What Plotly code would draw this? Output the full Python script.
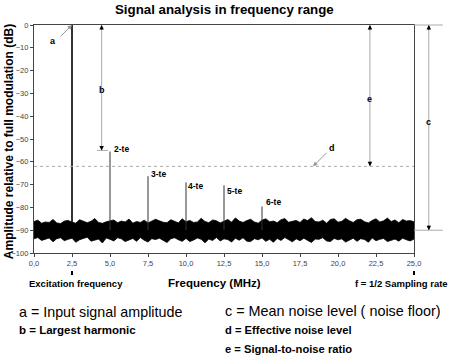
import plotly.graph_objects as go

# ---------------- data ----------------
freq_ticks = [0, 2.5, 5, 7.5, 10, 12.5, 15, 17.5, 20, 22.5, 25]
freq_tick_labels = ["0,0", "2,5", "5,0", "7,5", "10,0", "12,5", "15,0", "17,5", "20,0", "22,5", "25,0"]
db_ticks = [0, -10, -20, -30, -40, -50, -60, -70, -80, -90, -100]

peak_freqs = [2.5, 5.0, 7.5, 10.0, 12.5, 15.0]
peak_db = [0, -55.5, -66.3, -69.0, -70.3, -79.6]
peak_labels = ["", "2-te", "3-te", "4-te", "5-te", "6-te"]
peak_label_x = [0, 5.13, 7.57, 10.0, 12.57, 15.13]
peak_label_y = [0, -54.2, -65.5, -70.5, -72.9, -77.7]

noise_freq = [i * 0.25 for i in range(101)]
noise_upper = [
    -86.2, -85.6, -86.9, -86.4, -86.6, -85.3, -86.8, -87.1, -86.0, -85.7,
    -86.5, -86.9, -85.4, -86.2, -86.7, -86.1, -84.9, -86.6, -87.0, -86.3,
    -85.8, -85.5, -86.7, -86.0, -86.4, -85.1, -86.9, -86.2, -86.6, -85.6,
    -86.8, -86.0, -85.2, -85.9, -86.5, -86.7, -85.4, -86.1, -86.8, -85.0,
    -86.3, -85.7, -86.6, -86.4, -84.8, -86.2, -86.7, -85.5, -85.9, -86.8,
    -86.1, -85.3, -86.5, -84.6, -86.0, -86.6, -85.8, -85.2, -86.4, -86.9,
    -85.6, -85.0, -86.3, -86.0, -86.7, -85.4, -84.9, -86.5, -86.1, -85.7,
    -86.6, -85.1, -85.8, -84.5, -86.2, -86.4, -85.6, -86.9, -85.3, -85.0,
    -86.5, -86.1, -84.8, -85.9, -86.6, -85.4, -85.2, -86.3, -86.8, -85.7,
    -85.0, -86.4, -85.9, -84.7, -86.2, -85.5, -86.7, -85.3, -86.0, -85.8,
    -86.3,
]
noise_lower = [
    -93.8, -93.2, -94.5, -94.1, -93.4, -95.1, -93.7, -93.3, -94.6, -94.0,
    -93.5, -95.3, -94.2, -93.6, -93.1, -94.8, -94.4, -93.9, -95.6, -93.4,
    -94.0, -94.7, -93.3, -93.8, -95.0, -94.3, -93.6, -94.9, -93.2, -94.4,
    -95.2, -93.7, -94.1, -93.5, -94.6, -95.4, -93.8, -93.3, -94.2, -94.9,
    -93.6, -95.0, -94.3, -93.4, -94.0, -95.5, -93.9, -94.5, -93.2, -94.7,
    -93.8, -94.1, -95.2, -93.5, -94.4, -93.3, -94.8, -95.0, -93.7, -94.2,
    -93.4, -94.9, -94.0, -95.3, -93.6, -94.5, -93.2, -94.1, -95.1, -93.8,
    -94.6, -93.5, -94.3, -95.4, -93.9, -94.0, -93.3, -94.7, -95.0, -93.6,
    -94.2, -93.8, -95.2, -94.4, -93.5, -94.9, -93.7, -94.1, -95.3, -93.4,
    -94.6, -94.0, -93.6, -95.0, -94.3, -93.9, -94.8, -93.5, -94.2, -94.7,
    -93.9,
]
noise_floor_db = -90
effective_noise_db = -62

FONT = "Liberation Sans, Arial, Helvetica, sans-serif"

fig = go.Figure()

# noise band
fig.add_trace(go.Scatter(x=noise_freq, y=noise_upper, mode="lines",
                         line=dict(color="black", width=0.8), showlegend=False, hoverinfo="skip"))
fig.add_trace(go.Scatter(x=noise_freq, y=noise_lower, mode="lines", fill="tonexty",
                         fillcolor="black", line=dict(color="black", width=0.8),
                         showlegend=False, hoverinfo="skip"))

# peaks
for i, (f, p) in enumerate(zip(peak_freqs, peak_db)):
    fig.add_trace(go.Scatter(x=[f, f], y=[noise_floor_db, p], mode="lines",
                             line=dict(color="black" if i == 0 else "#333", width=1.6 if i == 0 else 1),
                             showlegend=False, hoverinfo="skip"))

# effective noise level dotted line
fig.add_trace(go.Scatter(x=[0, 25], y=[effective_noise_db, effective_noise_db], mode="lines",
                         line=dict(color="#aaa", width=1, dash="dot"), showlegend=False, hoverinfo="skip"))

shapes = []
annotations = []

def vline_arrow(x, y0, y1, xref="x", yref="y"):
    shapes.append(dict(type="line", xref=xref, yref=yref, x0=x, x1=x, y0=y0, y1=y1,
                       line=dict(color="#aaa", width=1)))
    annotations.append(dict(xref=xref, yref=yref, x=x, y=y0, ax=0, ay=6, text="", showarrow=True,
                            arrowhead=2, arrowsize=0.9, arrowwidth=1, arrowcolor="black"))
    annotations.append(dict(xref=xref, yref=yref, x=x, y=y1, ax=0, ay=-6, text="", showarrow=True,
                            arrowhead=2, arrowsize=0.9, arrowwidth=1, arrowcolor="black"))

def label(x, y, t, xref="x", yref="y", size=9, xanchor="center", bold=True, color="black"):
    annotations.append(dict(xref=xref, yref=yref, x=x, y=y, text=("<b>%s</b>" % t) if bold else t,
                            showarrow=False, xanchor=xanchor, yanchor="middle",
                            font=dict(family=FONT, size=size, color=color)))

# b arrow
vline_arrow(4.45, 0, -55)
shapes.append(dict(type="line", xref="x", yref="y", x0=4.14, x1=4.87, y0=-55, y1=-55,
                   line=dict(color="#aaa", width=1)))
label(4.45, -28.5, "b", size=9)
# e arrow
vline_arrow(22.1, 0, effective_noise_db)
label(22.1, -32.5, "e", size=9)
# c arrow (outside plot)
vline_arrow(1.039, 1.0, 0.1, xref="paper", yref="paper")
label(1.039, 0.575, "c", xref="paper", yref="paper", size=9)
shapes.append(dict(type="line", xref="paper", yref="paper", x0=1, x1=1.076, y0=1, y1=1,
                   line=dict(color="#aaa", width=1)))
shapes.append(dict(type="line", xref="paper", yref="paper", x0=1, x1=1.076, y0=0.1, y1=0.1,
                   line=dict(color="#aaa", width=1)))

# a pointer
annotations.append(dict(xref="x", yref="y", x=2.5, y=0, ax=-13, ay=13, text="", showarrow=True,
                        arrowhead=2, arrowsize=0.9, arrowwidth=1, arrowcolor="#999"))
label(1.25, -7, "a", size=9)
# d pointer
annotations.append(dict(xref="x", yref="y", x=18.36, y=effective_noise_db, ax=15, ay=-15, text="",
                        showarrow=True, arrowhead=2, arrowsize=0.9, arrowwidth=1, arrowcolor="#999"))
label(19.6, -54, "d", size=9)

# harmonic labels
for lx, ly, t in zip(peak_label_x, peak_label_y, peak_labels):
    if t:
        label(lx, ly, t, size=8.5, xanchor="left")

# texts outside
label(0.5, 1.066, "Signal analysis in frequency range", xref="paper", yref="paper", size=13.3)
annotations.append(dict(xref="paper", yref="paper", x=-0.066, y=0.49, text="<b>Amplitude relative to full modulation (dB)</b>",
                        textangle=-90, showarrow=False, xanchor="center", yanchor="middle",
                        font=dict(family=FONT, size=12, color="black")))
label(0.1105, -0.1316, "Excitation frequency", xref="paper", yref="paper", size=9.5)
label(0.474, -0.1316, "Frequency (MHz)", xref="paper", yref="paper", size=11.5)
label(0.968, -0.1316, "f = 1/2 Sampling rate", xref="paper", yref="paper", size=9.5)
label(-0.045, -0.259, "a = Input signal amplitude", xref="paper", yref="paper", size=14.3, xanchor="left", bold=False)
label(-0.045, -0.338, "b = Largest harmonic", xref="paper", yref="paper", size=11.5, xanchor="left")
label(0.497, -0.254, "c = Mean noise level ( noise floor)", xref="paper", yref="paper", size=14.4, xanchor="left", bold=False)
label(0.497, -0.338, "d = Effective noise level", xref="paper", yref="paper", size=11.2, xanchor="left")
label(0.497, -0.421, "e = Signal-to-noise ratio", xref="paper", yref="paper", size=11.2, xanchor="left")

# small marks under axis
for px in [0.1, 1.0]:
    shapes.append(dict(type="line", xref="paper", yref="paper", x0=px, x1=px, y0=-0.079, y1=-0.096,
                       line=dict(color="black", width=2)))

fig.update_layout(
    width=452, height=357,
    margin=dict(l=34, r=38, t=25, b=104),
    plot_bgcolor="white", paper_bgcolor="white",
    showlegend=False,
    shapes=shapes, annotations=annotations,
    xaxis=dict(range=[0, 25], tickvals=freq_ticks, ticktext=freq_tick_labels,
               showgrid=False, zeroline=False, showline=True, linecolor="#444", linewidth=1.2,
               mirror=True, ticks="outside", ticklen=3, tickcolor="#444",
               tickfont=dict(family=FONT, size=7.5, color="#444")),
    yaxis=dict(range=[-100, 0], tickvals=db_ticks,
               showgrid=False, zeroline=False, showline=True, linecolor="#444", linewidth=1.2,
               mirror=True, ticks="outside", ticklen=3, tickcolor="#444",
               tickfont=dict(family=FONT, size=7.5, color="#444")),
)

fig.write_html("out.html", config={"displayModeBar": False},
               post_script="document.body.style.margin='0px';")
